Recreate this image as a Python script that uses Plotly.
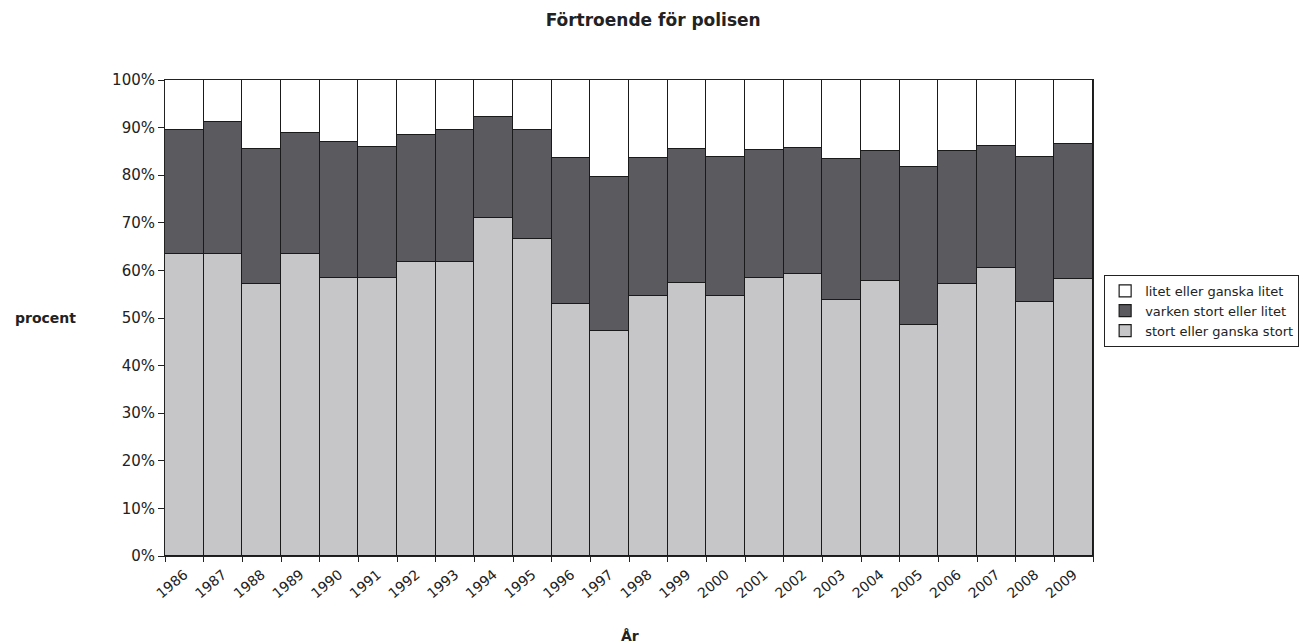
import plotly.graph_objects as go

years = [str(y) for y in range(1986, 2010)]
stort = [63.5, 63.5, 57.2, 63.5, 58.4, 58.4, 61.8, 61.7, 71.0, 66.7, 53.0, 47.3,
         54.7, 57.3, 54.7, 58.4, 59.3, 53.7, 57.7, 48.5, 57.2, 60.5, 53.3, 58.2]
varken = [26.0, 27.7, 28.4, 25.4, 28.6, 27.6, 26.7, 27.7, 21.3, 22.8, 30.7, 32.4,
          29.0, 28.2, 29.2, 26.9, 26.4, 29.7, 27.3, 33.3, 27.8, 25.6, 30.5, 28.3]
litet = [10.5, 8.8, 14.4, 11.1, 13.0, 14.0, 11.5, 10.6, 7.7, 10.5, 16.3, 20.3,
         16.3, 14.5, 16.1, 14.7, 14.3, 16.6, 15.0, 18.2, 15.0, 13.9, 16.2, 13.5]

series = [
    ("stort eller ganska stort", stort, "#c6c6c8"),
    ("varken stort eller litet", varken, "#5b5b5f"),
    ("litet eller ganska litet", litet, "#ffffff"),
]

FONT = "DejaVu Sans, Liberation Sans, Arial, sans-serif"
TXT = "#222"

fig = go.Figure()
for name, vals, col in series:
    fig.add_trace(go.Bar(
        x=years, y=vals, name=name,
        marker=dict(color=col, line=dict(color="#1a1a1a", width=1.2)),
    ))

fig.update_layout(
    barmode="stack",
    bargap=0,
    width=1306, height=636,
    margin=dict(l=157, r=221, t=72, b=88),
    plot_bgcolor="white", paper_bgcolor="white",
    font=dict(family=FONT, color=TXT, size=14),
    title=dict(text="<b>Förtroende för polisen</b>", x=0.494, xanchor="center",
               y=0.981, yanchor="middle", font=dict(size=17, family=FONT, color=TXT)),
    showlegend=True,
    legend=dict(
        x=1.012, xanchor="left", y=0.515, yanchor="middle",
        traceorder="reversed",
        bordercolor="#222", borderwidth=1,
        font=dict(size=13, family=FONT, color=TXT),
        itemwidth=30, tracegroupgap=0,
    ),
    xaxis=dict(
        type="category", tickangle=-40, ticks="outside", ticklen=5,
        tickson="boundaries", tickcolor="#222", ticklabelstandoff=4,
        showline=True, linecolor="#222", linewidth=1, mirror=True,
        tickfont=dict(size=14, family=FONT, color=TXT),
        showgrid=False,
    ),
    yaxis=dict(
        range=[0, 100], dtick=10, ticksuffix="%", ticks="outside", ticklen=6,
        tickcolor="#222",
        showline=True, linecolor="#222", linewidth=1, mirror=True,
        showgrid=False, zeroline=False,
        tickfont=dict(size=15, family=FONT, color=TXT),
    ),
    annotations=[
        dict(text="<b>procent</b>", xref="paper", yref="paper", x=-0.129, y=0.5,
             xanchor="center", yanchor="middle", showarrow=False,
             font=dict(size=14, family=FONT, color=TXT)),
        dict(text="<b>År</b>", xref="paper", yref="paper", x=0.501, y=-0.168,
             xanchor="center", yanchor="middle", showarrow=False,
             font=dict(size=14, family=FONT, color=TXT)),
    ],
)

fig.write_html("out.html")
